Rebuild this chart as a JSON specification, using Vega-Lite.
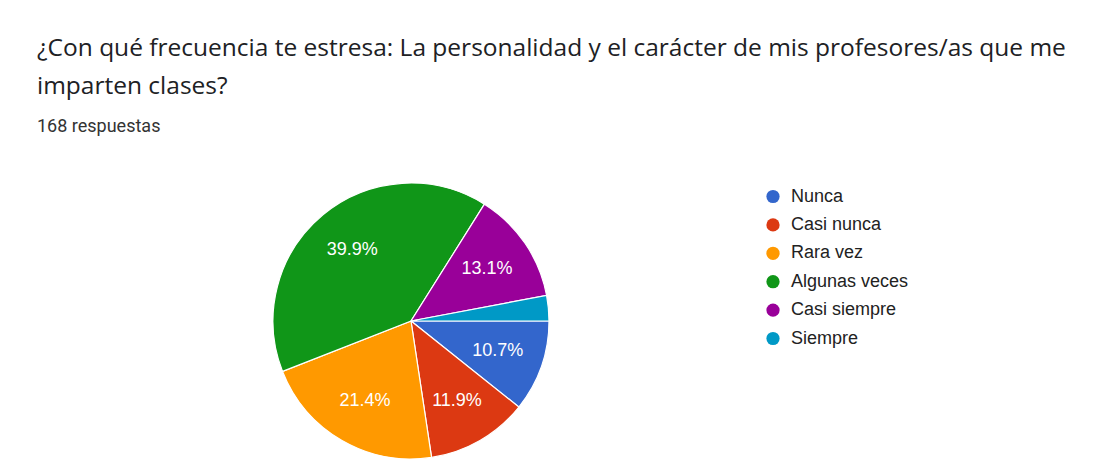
{
  "$schema": "https://vega.github.io/schema/vega-lite/v6.json",
  "width": 748,
  "height": 300,
  "padding": {"left": 37, "top": 35, "right": 0, "bottom": 0},
  "background": "white",
  "title": {
    "text": ["¿Con qué frecuencia te estresa: La personalidad y el carácter de mis profesores/as que me", "imparten clases?"],
    "subtitle": "168 respuestas",
    "anchor": "start",
    "font": "Open Sans",
    "fontSize": 24.5,
    "fontWeight": "normal",
    "color": "#202124",
    "lineHeight": 38,
    "subtitleFont": "Roboto",
    "subtitleFontSize": 18,
    "subtitleColor": "#333333",
    "subtitlePadding": 19,
    "offset": 34
  },
  "data": {
    "values": [
      {"respuesta": "Nunca", "idx": 1, "n": 18, "pct": 0.107},
      {"respuesta": "Casi nunca", "idx": 2, "n": 20, "pct": 0.119},
      {"respuesta": "Rara vez", "idx": 3, "n": 36, "pct": 0.214},
      {"respuesta": "Algunas veces", "idx": 4, "n": 67, "pct": 0.399},
      {"respuesta": "Casi siempre", "idx": 5, "n": 22, "pct": 0.131},
      {"respuesta": "Siempre", "idx": 6, "n": 5, "pct": 0.030}
    ]
  },
  "encoding": {
    "theta": {"field": "n", "type": "quantitative", "stack": true, "scale": {"range": [1.5708, 7.8540]}},
    "order": {"field": "idx", "type": "quantitative"}
  },
  "layer": [
    {
      "mark": {"type": "arc", "radius": 138, "stroke": "white", "strokeWidth": 1.2},
      "encoding": {
        "color": {
          "field": "respuesta",
          "type": "nominal",
          "sort": ["Nunca", "Casi nunca", "Rara vez", "Algunas veces", "Casi siempre", "Siempre"],
          "scale": {
            "domain": ["Nunca", "Casi nunca", "Rara vez", "Algunas veces", "Casi siempre", "Siempre"],
            "range": ["#3366cc", "#dc3912", "#ff9900", "#109618", "#990099", "#0099c6"]
          },
          "legend": {
            "title": null,
            "orient": "none",
            "legendX": 727,
            "legendY": 16.5,
            "symbolType": "circle",
            "symbolSize": 175,
            "symbolStrokeWidth": 0,
            "labelFont": "Liberation Sans",
            "labelFontSize": 18,
            "labelColor": "#222222",
            "labelOffset": 9,
            "rowPadding": 10.4,
            "padding": 0
          }
        }
      }
    },
    {
      "transform": [{"filter": "datum.pct > 0.05"}],
      "mark": {"type": "text", "radius": 92, "fill": "white", "font": "Liberation Sans", "fontSize": 18},
      "encoding": {
        "text": {"field": "pct", "type": "quantitative", "format": ".1%"}
      }
    }
  ]
}
